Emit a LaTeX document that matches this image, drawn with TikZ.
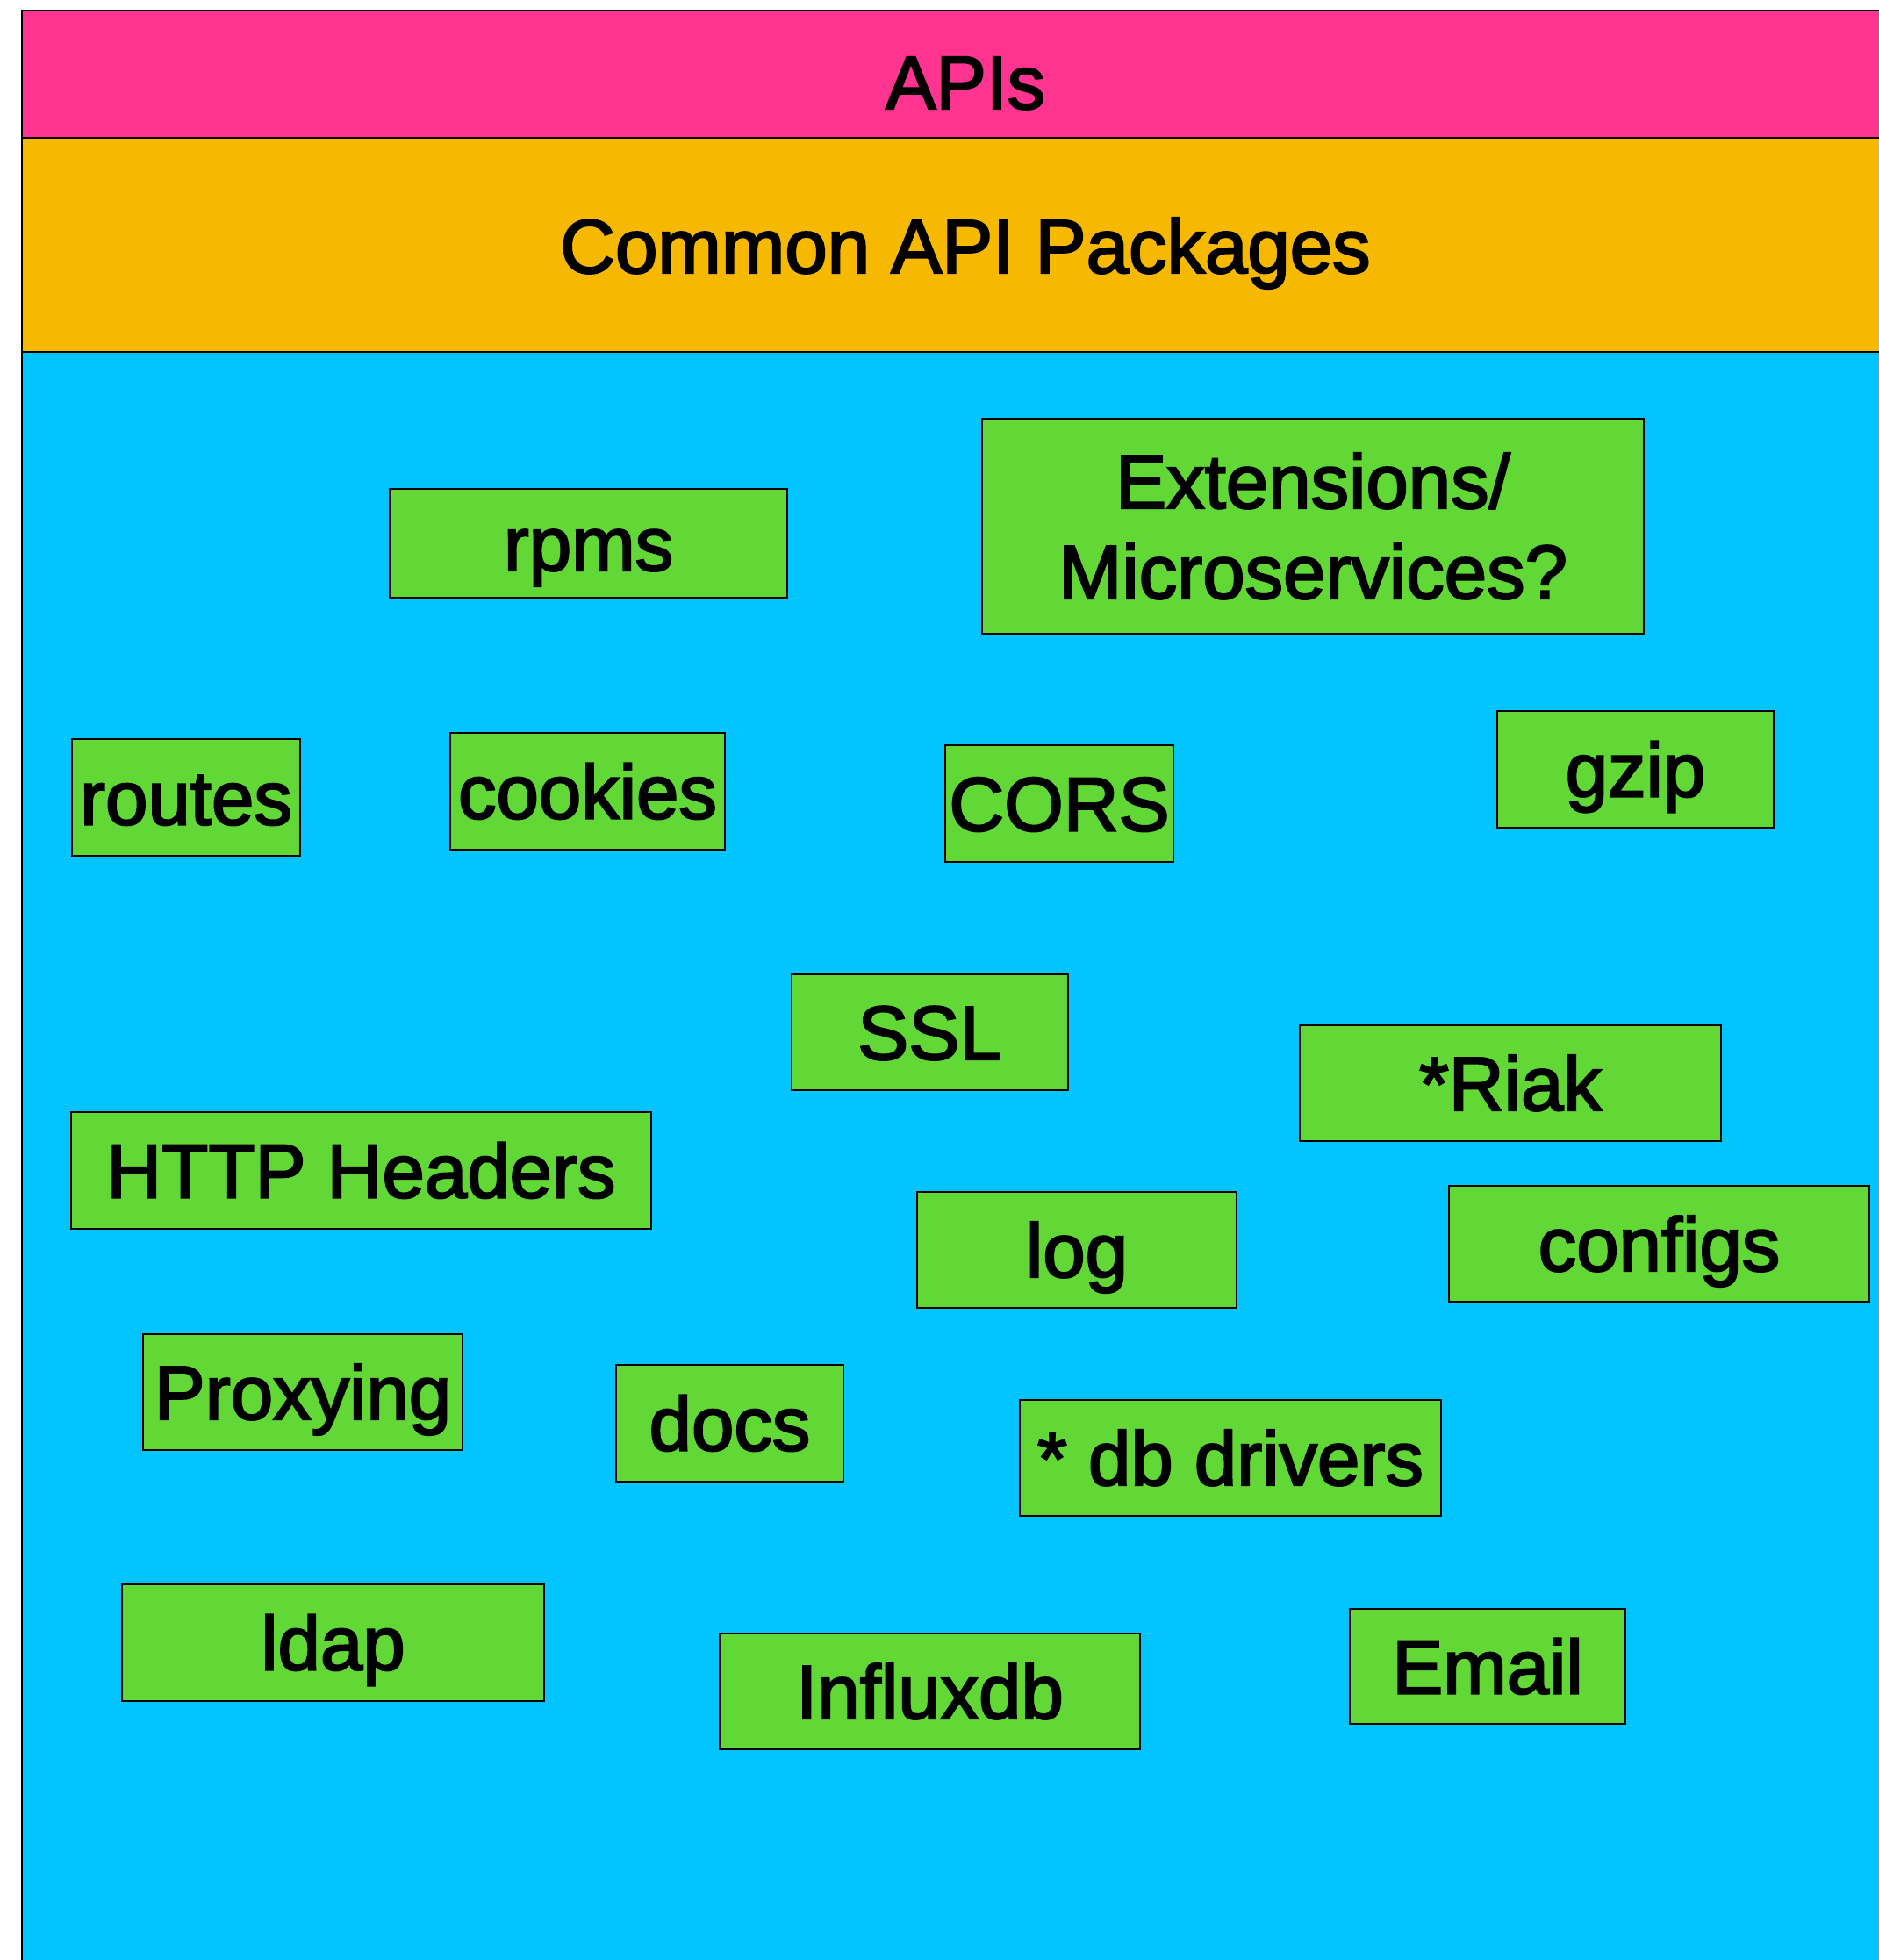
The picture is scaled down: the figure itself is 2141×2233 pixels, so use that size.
\documentclass[tikz,border=0pt]{standalone}
\usepackage{fontspec}
\setmainfont{Liberation Sans}
\newfontfamily\medfont{Liberation Sans}[FakeBold=2.5]
\definecolor{apipink}{RGB}{255,51,144}
\definecolor{apiorange}{RGB}{246,185,0}
\definecolor{apiblue}{RGB}{0,197,255}
\definecolor{boxgreen}{RGB}{98,216,54}
\begin{document}
\begin{tikzpicture}[x=1pt,y=-1pt,
  band/.style={draw=black, line width=2.5pt},
  pkg/.style={draw=black, line width=2.5pt, fill=boxgreen, rectangle, inner sep=0pt,
    font=\medfont\fontsize{87}{103}\selectfont, text height=62pt, text depth=0pt},
  title/.style={inner sep=0pt, anchor=base}]
\clip (0,0) rectangle (2141,2233);
\fill[white] (0,0) rectangle (2141,2233);
% layers
\draw[band, fill=apiblue] (25,401) rectangle (2200,2270);
\draw[band, fill=apiorange] (25,157) rectangle (2200,401);
\draw[band, fill=apipink] (25,12) rectangle (2200,157);
\node[title, font=\medfont\fontsize{86}{100}\selectfont] (apis) at (1100,124) {APIs};
\node[title, font=\medfont\fontsize{87}{100}\selectfont] (common) at (1100,311) {Common API Packages};
% packages
\node[pkg, minimum width=453pt, minimum height=124pt] (rpms) at (670.5,619) {rpms};
\node[pkg, minimum width=754pt, minimum height=245pt, text height=165pt] (ext) at (1496,599.5)
  {\begin{tabular}[b]{@{}c@{}}Extensions/\\Microservices?\end{tabular}};
\node[pkg, minimum width=260pt, minimum height=133pt] (routes) at (212,908.5) {routes};
\node[pkg, minimum width=313pt, minimum height=133pt] (cookies) at (669.5,901.5) {cookies};
\node[pkg, minimum width=260pt, minimum height=133pt] (cors) at (1207,915.5) {CORS};
\node[pkg, minimum width=315pt, minimum height=133pt] (gzip) at (1863.5,876.5) {gzip};
\node[pkg, minimum width=315pt, minimum height=132pt] (ssl) at (1059.5,1176) {SSL};
\node[pkg, minimum width=480pt, minimum height=132pt] (riak) at (1721,1234) {*Riak};
\node[pkg, minimum width=661pt, minimum height=133pt] (http) at (411.5,1333.5) {HTTP Headers};
\node[pkg, minimum width=364pt, minimum height=132pt] (log) at (1227,1424) {log};
\node[pkg, minimum width=479pt, minimum height=132pt] (configs) at (1890.5,1417) {configs};
\node[pkg, minimum width=364pt, minimum height=132pt] (proxy) at (345,1586) {Proxying};
\node[pkg, minimum width=259pt, minimum height=133pt] (docs) at (831.5,1621.5) {docs};
\node[pkg, minimum width=480pt, minimum height=132pt] (db) at (1402,1661) {* db drivers};
\node[pkg, minimum width=481pt, minimum height=133pt] (ldap) at (379.5,1871.5) {ldap};
\node[pkg, minimum width=479pt, minimum height=132pt] (influx) at (1059.5,1927) {Influxdb};
\node[pkg, minimum width=314pt, minimum height=131pt] (email) at (1695,1898.5) {Email};
\end{tikzpicture}
\end{document}
